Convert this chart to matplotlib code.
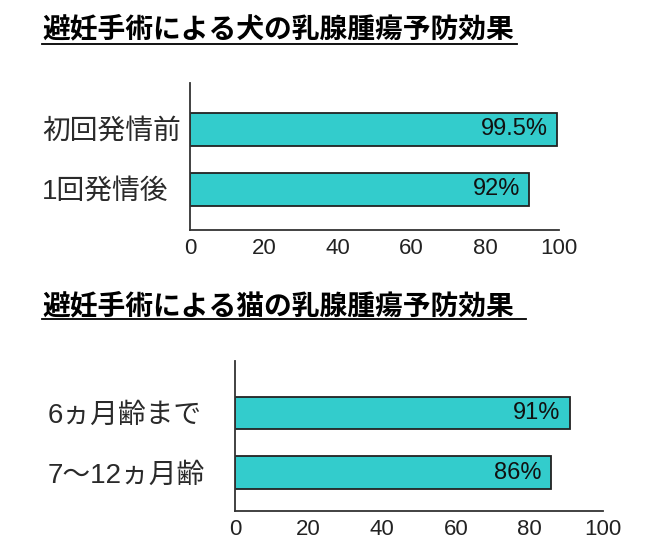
import matplotlib
matplotlib.use('Agg')
import matplotlib.pyplot as plt
from matplotlib.lines import Line2D

# Data
dog_title = '避妊手術による犬の乳腺腫瘍予防効果'
dog_categories = ['初回発情前', '1回発情後']
dog_values = [99.5, 92]

cat_title = '避妊手術による猫の乳腺腫瘍予防効果'
cat_categories = ['6ヵ月齢まで', '7〜12ヵ月齢']
cat_values = [91, 86]

x_ticks = [0, 20, 40, 60, 80, 100]

W, H = 651, 557
fig = plt.figure(figsize=(W / 100, H / 100), dpi=100)
fig.patch.set_facecolor('white')

BAR = '#33CCCC'
JP = ['Noto Sans CJK JP', 'DejaVu Sans']
NUM = ['Liberation Sans', 'DejaVu Sans']
LABEL = ['Liberation Sans', 'Noto Sans CJK JP', 'DejaVu Sans']


def px_rect(left, top, right, bottom):
    return [left / W, 1 - bottom / H, (right - left) / W, (bottom - top) / H]


def draw_title(text, y_center, x_left, x_line_end, y_line):
    fig.text(x_left / W, 1 - y_center / H, text, ha='left', va='center',
             fontsize=20, weight='bold', family=JP, color='black')
    fig.add_artist(Line2D([x_left / W, x_line_end / W], [1 - y_line / H] * 2,
                          color='black', lw=1.3, transform=fig.transFigure))


def draw_panel(rect, cats, vals, ylim, label_left_px):
    ax = fig.add_axes(rect)
    ypos = list(range(len(cats)))[::-1]
    ax.barh(ypos, vals, height=0.55, color=BAR, edgecolor='#222', linewidth=1.3)
    ax.set_xlim(0, 100)
    ax.set_ylim(*ylim)
    ax.set_xticks(x_ticks)
    ax.set_xticklabels([str(t) for t in x_ticks], family=NUM, fontsize=16, color='#222')
    ax.set_yticks(ypos)
    ax.set_yticklabels(cats, family=LABEL, fontsize=20, color='#2a2a2a', ha='left')
    axis_left_px = rect[0] * W
    ax.tick_params(axis='x', length=0, pad=6)
    ax.tick_params(axis='y', length=0, pad=(axis_left_px - label_left_px) * 72 / 100)
    for s in ['top', 'right']:
        ax.spines[s].set_visible(False)
    for s in ['left', 'bottom']:
        ax.spines[s].set_color('#333')
        ax.spines[s].set_linewidth(1.3)
    for y, v in zip(ypos, vals):
        ax.annotate(f'{v:g}%', xy=(v, y), xytext=(-7, 0), textcoords='offset points',
                    ha='right', va='center', family=NUM, fontsize=17, color='#111')
    return ax


draw_title(dog_title, 29, 42, 517, 44)
draw_panel(px_rect(190, 83, 559, 230), dog_categories, dog_values, (-0.683, 1.767), 42)

draw_title(cat_title, 306, 42, 526, 319)
draw_panel(px_rect(235, 361, 603, 511), cat_categories, cat_values, (-0.647, 1.874), 48)

fig.savefig('out.png', dpi=100, facecolor='white')
